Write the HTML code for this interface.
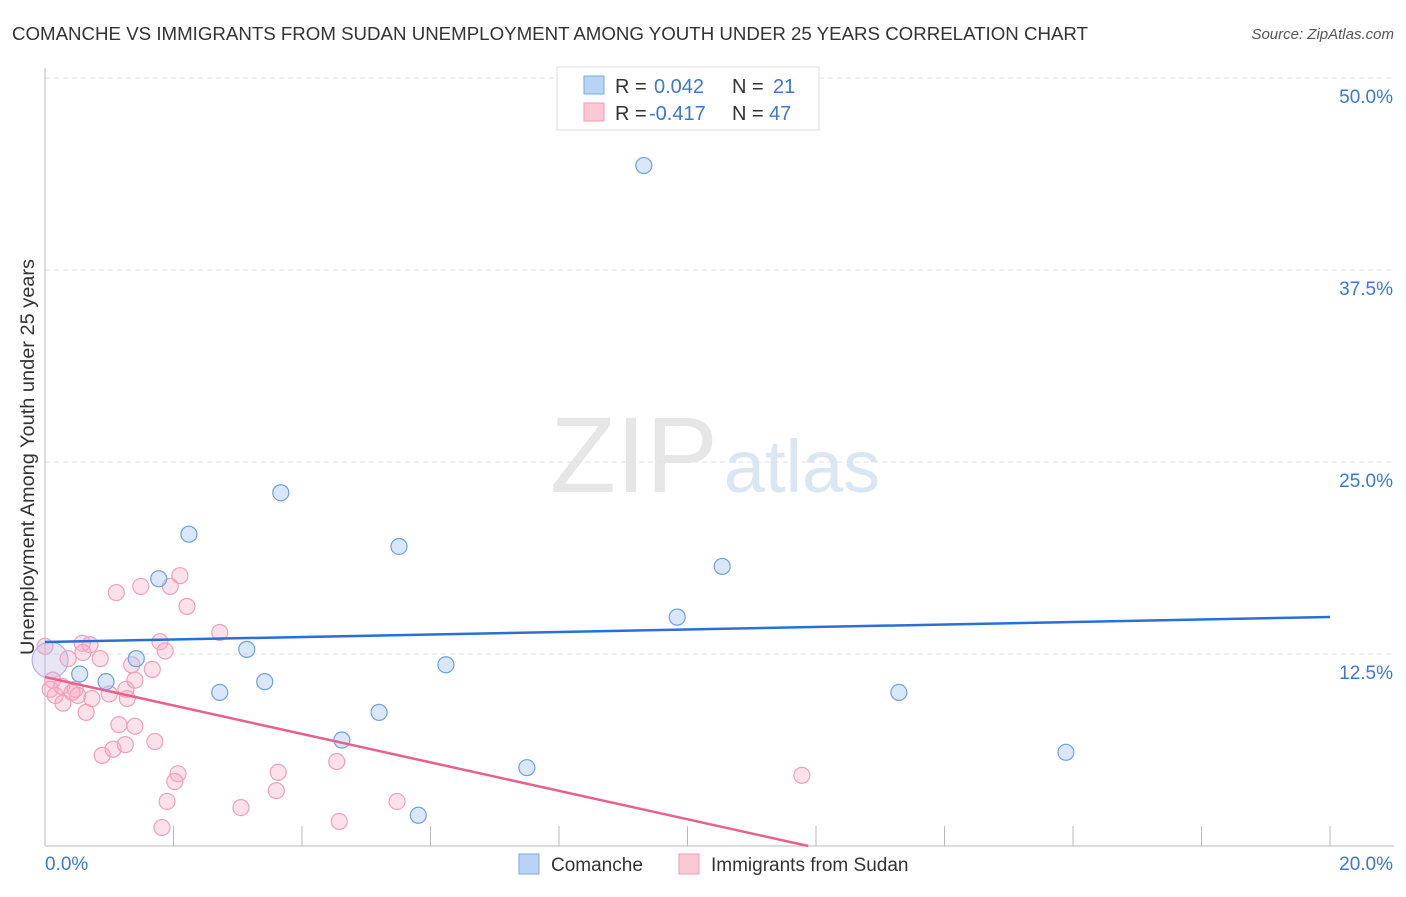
<!DOCTYPE html>
<html><head><meta charset="utf-8"><style>
body{margin:0;background:#fff;font-family:"Liberation Sans",sans-serif}
svg text{font-family:"Liberation Sans",sans-serif}
</style></head><body>
<svg id="c" width="1406" height="892">
<text x="12" y="40" font-size="18.5" fill="#333" textLength="1076" lengthAdjust="spacingAndGlyphs">COMANCHE VS IMMIGRANTS FROM SUDAN UNEMPLOYMENT AMONG YOUTH UNDER 25 YEARS CORRELATION CHART</text>
<text x="1394" y="39" font-size="15" fill="#555" font-style="italic" text-anchor="end">Source: ZipAtlas.com</text>
<g>
<text x="634" y="492" font-size="108" fill="#e6e6e6" font-family="Liberation Serif" text-anchor="middle">ZIP</text>
<text x="802" y="492" font-size="74" fill="#dbe6f5" text-anchor="middle">atlas</text>
</g>
<g id="grid"></g>
<g id="axes"></g>
<text transform="translate(34,457) rotate(-90)" font-size="19" fill="#333" text-anchor="middle" textLength="396" lengthAdjust="spacingAndGlyphs">Unemployment Among Youth under 25 years</text>
<g id="marks"></g>
<g>
<rect x="557" y="67" width="262" height="63" fill="#fff" stroke="#ddd"/>
<rect x="584" y="76" width="20" height="18" fill="#b9d3f5" stroke="#7aaae6"/>
<text x="615" y="93" font-size="20" fill="#333">R = </text><text x="654" y="93" font-size="20" fill="#3a78d4">0.042</text>
<text x="732" y="93" font-size="20" fill="#333">N = </text><text x="773" y="93" font-size="20" fill="#3a78d4">21</text>
<rect x="584" y="103" width="20" height="18" fill="#fbc8d6" stroke="#f09ab4"/>
<text x="615" y="120" font-size="20" fill="#333">R = </text><text x="649" y="120" font-size="20" fill="#3a78d4">-0.417</text>
<text x="732" y="120" font-size="20" fill="#333">N = </text><text x="769" y="120" font-size="20" fill="#3a78d4">47</text>
</g>
<g>
<rect x="519" y="854" width="20" height="20" fill="#b9d3f5" stroke="#7aaae6"/>
<text x="551" y="871" font-size="19" fill="#333">Comanche</text>
<rect x="679" y="854" width="20" height="20" fill="#fbc8d6" stroke="#f09ab4"/>
<text x="711" y="871" font-size="19" fill="#333">Immigrants from Sudan</text>
</g>
</svg>
<script>
const yTicks=[12.5,25,37.5,50];
const yTickLabels=["12.5%","25.0%","37.5%","50.0%"];
const xTickVals=[0,2,4,6,8,10,12,14,16,18,20];
const comancheX=[9.32,3.67,2.24,5.51,10.54,1.77,9.84,1.42,3.14,6.24,0.54,0.95,3.42,2.72,13.29,5.20,4.62,7.50,15.89,5.81,0.08];
const comancheY=[44.3,23.0,20.3,19.5,18.2,17.4,14.9,12.2,12.8,11.8,11.2,10.7,10.7,10.0,10.0,8.7,6.9,5.1,6.1,2.0,12.1];
const sudanX=[1.11,1.49,2.10,1.95,2.21,2.72,1.79,1.87,0.58,0.70,1.35,1.67,0.86,0.59,0.36,0.12,0.08,0.16,0.26,0.47,0.28,0.51,0.42,0.64,0.73,1.00,1.26,1.40,1.28,1.15,1.40,1.71,0.89,1.06,1.25,2.07,2.02,1.90,1.82,3.05,3.63,3.60,4.54,4.58,5.48,11.78,0.0];
const sudanY=[16.5,16.9,17.6,16.9,15.6,13.9,13.3,12.7,13.2,13.1,11.8,11.5,12.2,12.6,12.2,10.8,10.2,9.8,10.4,10.2,9.3,9.8,10.0,8.7,9.6,9.9,10.2,10.8,9.6,7.9,7.8,6.8,5.9,6.3,6.6,4.7,4.2,2.9,1.2,2.5,4.8,3.6,5.5,1.6,2.9,4.6,13.0];
const comancheTrend=[13.28,14.91];
const sudanTrend=[11.0,-0.926];
const X=v=>45+v*64.25, Y=v=>846-v*15.36;
const NS="http://www.w3.org/2000/svg";
function mk(t,a,p){const e=document.createElementNS(NS,t);for(const k in a)e.setAttribute(k,a[k]);p.appendChild(e);return e;}
const grid=document.getElementById('grid'),axes=document.getElementById('axes'),marks=document.getElementById('marks');
yTicks.forEach((v,i)=>{
 const l=mk('line',{x1:45,x2:1394,y1:Y(v),y2:Y(v),stroke:'#e2e2e2','stroke-dasharray':'5,4'},grid);
 
 
 const t=mk('text',{x:1393,y:Y(v)+25,'font-size':19,fill:'#3a78d4','text-anchor':'end'},axes);
 t.textContent=yTickLabels[i];
 
 
});
let a=mk('line',{x1:45,x2:45,y1:68,y2:846,stroke:'#bbb'},axes);


a=mk('line',{x1:45,x2:1394,y1:846,y2:846,stroke:'#bbb'},axes);


xTickVals.forEach(v=>{
 const l=mk('line',{x1:X(v),x2:X(v),y1:826,y2:846,stroke:'#bbb'},axes);
 
 
});
let t=mk('text',{x:45,y:870,'font-size':19,fill:'#3a78d4'},axes);t.textContent='0.0%';


t=mk('text',{x:1393,y:870,'font-size':19,fill:'#3a78d4','text-anchor':'end'},axes);t.textContent='20.0%';


sudanX.forEach((x,i)=>{
 const c=mk('circle',{cx:X(x),cy:Y(sudanY[i]),r:8,fill:'rgba(248,170,195,0.35)',stroke:'#f0a0b8','stroke-width':1.2},marks);
 
 
});
comancheX.forEach((x,i)=>{
 const c=mk('circle',{cx:X(x),cy:Y(comancheY[i]),r:i==20?18:8,fill:i==20?'rgba(190,180,225,0.35)':'rgba(160,195,240,0.4)',stroke:i==20?'#b8b0e0':'#6fa0e0','stroke-width':1.2},marks);
 
 
});
let l=mk('line',{x1:X(0),y1:Y(comancheTrend[0]),x2:X(20),y2:Y(comancheTrend[1]),stroke:'#2a6fd6','stroke-width':2.5},marks);


const xe=-sudanTrend[0]/sudanTrend[1];
l=mk('line',{x1:X(0),y1:Y(sudanTrend[0]),x2:X(xe),y2:Y(0),stroke:'#e8608e','stroke-width':2.5},marks);


</script>
</body></html>
